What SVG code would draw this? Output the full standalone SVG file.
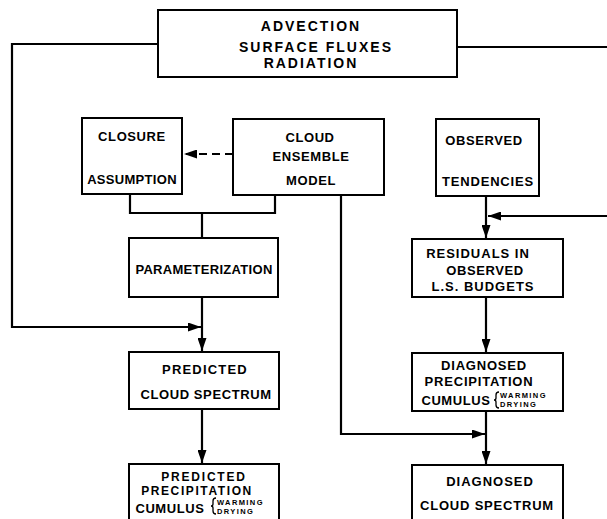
<svg xmlns="http://www.w3.org/2000/svg" width="607" height="519" viewBox="0 0 607 519">
<defs>
<style>
.box{fill:#fff;stroke:#000;stroke-width:2}
.t{font-family:"Liberation Sans",Arial,sans-serif;font-weight:bold;font-size:13px;fill:#000;text-anchor:middle;letter-spacing:0.6px}
.big{font-size:14px;letter-spacing:2px}
.sm{font-size:7.5px;text-anchor:start;letter-spacing:1.4px}
.ln{fill:none;stroke:#000;stroke-width:2.2}
.dash{stroke-dasharray:8 5}
.br{fill:none;stroke:#000;stroke-width:1.3}
</style>
<marker id="ah" markerUnits="userSpaceOnUse" markerWidth="14" markerHeight="9" refX="13" refY="4.5" orient="auto">
<path d="M0,0 L13,4.5 L0,9 z" fill="#000"/>
</marker>
</defs>
<rect width="607" height="519" fill="#fff"/>
<g id="connectors">
<path class="ln" d="M158,44 H12 V327 H201" marker-end="url(#ah)"/>
<path class="ln" d="M457,47 H607"/>
<path class="ln" d="M607,216 H488" marker-end="url(#ah)"/>
<path class="ln dash" d="M233,154 H184" marker-end="url(#ah)"/>
<path class="ln" d="M130,194 V213 H275 V195"/>
<path class="ln" d="M202,213 V238"/>
<path class="ln" d="M202,297 V351" marker-end="url(#ah)"/>
<path class="ln" d="M202,409 V463" marker-end="url(#ah)"/>
<path class="ln" d="M486,196 V238" marker-end="url(#ah)"/>
<path class="ln" d="M486,297 V352" marker-end="url(#ah)"/>
<path class="ln" d="M341,195 V434 H485" marker-end="url(#ah)"/>
<path class="ln" d="M486,411 V464" marker-end="url(#ah)"/>
</g>
<g id="top">
<rect class="box" x="158" y="10" width="299" height="67"/>
<text class="t big" x="311" y="31">ADVECTION</text>
<text class="t big" x="316" y="52">SURFACE FLUXES</text>
<text class="t big" x="311" y="68">RADIATION</text>
</g>
<g id="closure">
<rect class="box" x="82" y="118" width="100" height="76"/>
<text class="t" x="132" y="141">CLOSURE</text>
<text class="t" x="132" y="184" style="letter-spacing:0.3px">ASSUMPTION</text>
</g>
<g id="ensemble">
<rect class="box" x="233" y="119" width="151" height="76"/>
<text class="t" x="310" y="141.5">CLOUD</text>
<text class="t" x="311" y="161">ENSEMBLE</text>
<text class="t" x="311" y="185">MODEL</text>
</g>
<g id="observed">
<rect class="box" x="436" y="119" width="103" height="77"/>
<text class="t" x="484" y="145">OBSERVED</text>
<text class="t" x="488" y="186" style="letter-spacing:0.8px">TENDENCIES</text>
</g>
<g id="param">
<rect class="box" x="129" y="238" width="149" height="59"/>
<text class="t" x="204" y="274" style="letter-spacing:0.3px">PARAMETERIZATION</text>
</g>
<g id="residuals">
<rect class="box" x="412" y="239" width="151" height="58"/>
<text class="t" x="478" y="258" style="letter-spacing:1px">RESIDUALS  IN</text>
<text class="t" x="485" y="275">OBSERVED</text>
<text class="t" x="483" y="291" style="letter-spacing:1px">L.S. BUDGETS</text>
</g>
<g id="predcloud">
<rect class="box" x="129" y="352" width="150" height="57"/>
<text class="t" x="205" y="374" style="letter-spacing:1.2px">PREDICTED</text>
<text class="t" x="206" y="399">CLOUD SPECTRUM</text>
</g>
<g id="diagprecip">
<rect class="box" x="412" y="353" width="151" height="58"/>
<text class="t" x="484" y="370" style="letter-spacing:0.8px">DIAGNOSED</text>
<text class="t" x="479" y="386" style="letter-spacing:0.8px">PRECIPITATION</text>
<text class="t" x="456" y="405">CUMULUS</text>
<path class="br" d="M499,392 q-3,0 -3,3 v3 q0,2 -2,2 q2,0 2,2 v3 q0,3 3,3"/>
<text class="t sm" x="500" y="398">WARMING</text>
<text class="t sm" x="500" y="407">DRYING</text>
</g>
<g id="predprecip">
<rect class="box" x="129" y="464" width="150" height="62"/>
<text class="t" x="204" y="481" style="font-size:12px;letter-spacing:1.8px">PREDICTED</text>
<text class="t" x="197" y="495" style="font-size:12px;letter-spacing:1.6px">PRECIPITATION</text>
<text class="t" x="170" y="513">CUMULUS</text>
<path class="br" d="M216,498 q-3,0 -3,3 v3 q0,2 -2,2 q2,0 2,2 v3 q0,3 3,3"/>
<text class="t sm" x="217" y="505">WARMING</text>
<text class="t sm" x="217" y="514">DRYING</text>
</g>
<g id="diagcloud">
<rect class="box" x="412" y="465" width="151" height="62"/>
<text class="t" x="490" y="486" style="letter-spacing:1px">DIAGNOSED</text>
<text class="t" x="487" y="510" style="letter-spacing:0.8px">CLOUD SPECTRUM</text>
</g>
</svg>
